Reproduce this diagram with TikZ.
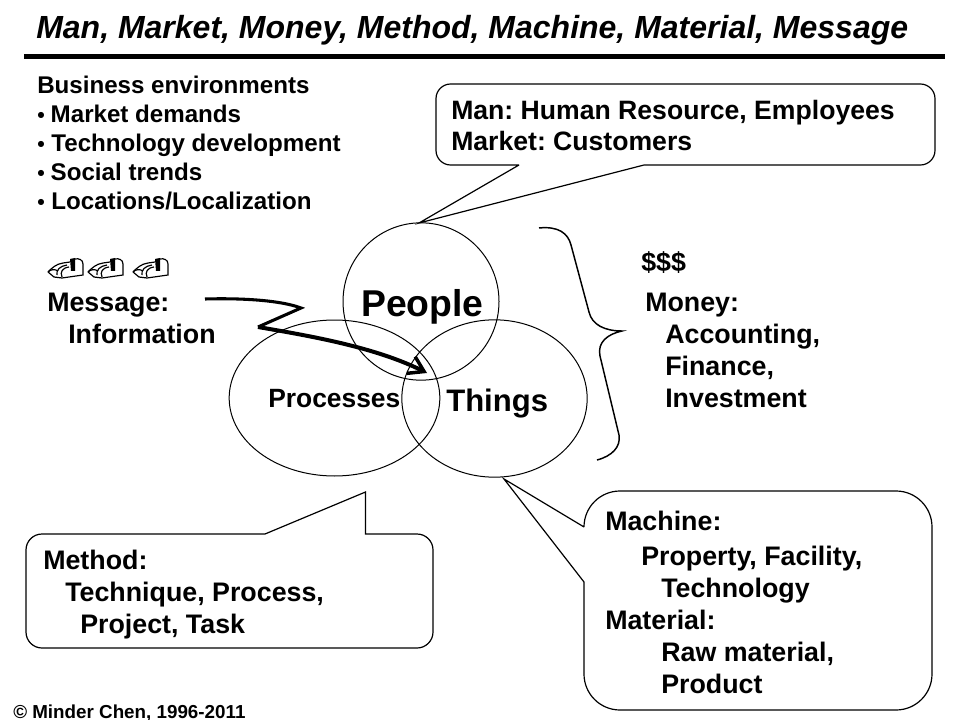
\documentclass[tikz,border=0pt]{standalone}
\usepackage{fontspec}
\setmainfont{Liberation Sans}
\usepackage{tikz}
\usetikzlibrary{shapes.geometric, arrows.meta}
\frenchspacing

\begin{document}
\begin{tikzpicture}[
  x=0.75pt, y=-0.75pt,
  txt/.style={inner sep=0pt, anchor=base west, align=left, font=\bfseries\fontsize{20.1}{24}\selectfont},
  small/.style={txt, font=\bfseries\fontsize{18.1}{21.75}\selectfont},
  venn/.style={draw, ellipse, inner sep=0pt, line width=0.75pt},
  callout/.style={draw, line width=0.9pt},
  arr/.style={-{Straight Barb[length=11pt, width=14pt, line width=2.6pt]}, line width=3pt},
  mailbox/.pic={
    \draw[line width=0.9pt] (14,20) -- (35,17) -- (35,6) .. controls (35,2) and (31,0) .. (27,1);
    \draw[line width=0.9pt] (0,14) .. controls (4,10) and (8,6) .. (15,5) -- (22,4);
    \draw[line width=0.9pt] (0,14) -- (6,19) -- (14,20);
    \draw[line width=0.9pt] (0,14) .. controls (3,11) and (7,11) .. (10,13);
    \draw[line width=0.9pt] (9,17) .. controls (8,12) and (12,8) .. (19,7);
    \draw[line width=0.9pt] (14,19) .. controls (12,14) and (14,10) .. (21,9);
    \fill (22,1) -- (27,0) -- (27,13) -- (23,13) -- cycle;
  }
]
  \useasboundingbox (0,0) rectangle (960,720);

  % title and rule
  \node[txt, font=\bfseries\itshape\fontsize{24}{28}\selectfont] (title) at (36,38.5)
    {Man, Market, Money, Method, Machine, Material, Message};
  \draw[line width=4pt] (24,56.5) -- (945,56.5);

  \node[small] (business) at (37,210) {Business environments\\
    {\fontsize{16}{21.75}\selectfont •}\hspace*{4.5pt}Market demands\\
    {\fontsize{16}{21.75}\selectfont •}\hspace*{5pt}Technology development\\
    {\fontsize{16}{21.75}\selectfont •}\hspace*{4.5pt}Social trends\\
    {\fontsize{16}{21.75}\selectfont •}\hspace*{5pt}Locations/Localization};

  % the three sets
  \node[venn, minimum width=117pt, minimum height=118pt] (peopleset) at (421,301.5) {};
  \node[venn, minimum width=158pt, minimum height=117pt] (processset) at (334.5,398) {};
  \node[venn, minimum width=139pt, minimum height=118pt] (thingset) at (494.5,398.5) {};
  \node[txt, font=\bfseries\fontsize{28}{32}\selectfont] (people) at (361,316) {People};
  \node[txt, font=\bfseries\fontsize{23.3}{28}\selectfont] (things) at (446,411) {Things};
  \node[txt, font=\bfseries\fontsize{19.8}{24}\selectfont] (processes) at (268,407) {Processes};

  % message
  \pic at (48,258) {mailbox};
  \pic at (88,258) {mailbox};
  \pic at (133,258) {mailbox};
  \node[txt] (message) at (47,343) {Message:\\\hspace*{15.75pt}Information};
  \coordinate (msgstart) at (205,299);
  \coordinate (msgbend) at (301,308);
  \coordinate (msgback) at (258,327);
  \coordinate (msgend) at (427,373);
  \draw[line width=2.3pt, line join=miter] (msgstart) .. controls (240,298) and (280,300) .. (msgbend) -- (msgback);
  \draw[arr] (msgback) .. controls (310,336) and (375,347) .. (msgend);

  % money
  \draw[line width=1.1pt] (539,228) .. controls (558,226) and (568,233) .. (571,245)
    -- (589,312) .. controls (592,325) and (605,331) .. (622,331)
    .. controls (608,334) and (597,342) .. (600,356)
    -- (619,435) .. controls (621,447) and (612,456) .. (597,460);
  \node[txt] (dollars) at (641,272) {\$\$\$};
  \node[txt] (money) at (645,407) {Money:\\\hspace*{15pt}Accounting,\\\hspace*{15pt}Finance,\\\hspace*{15pt}Investment};

  % callouts
  \draw[callout] (519,165) -- (419,223) -- (644,165) -- (700,165) [rounded corners=11pt]
    -- (935,165) -- (935,84) -- (436,84) -- (436,165) -- (519,165);
  \node[txt, font=\bfseries\fontsize{19.95}{23.25}\selectfont] (man) at (451,151) {Man: Human Resource, Employees\\Market: Customers};

  \draw[callout] (265,534) -- (365.5,492) -- (365.5,534) -- (380,534) [rounded corners=12pt]
    -- (433,534) -- (433,648) -- (26,648) -- (26,534) -- (265,534);
  \node[txt] (method) at (43,633) {Method:\\\hspace*{16.5pt}Technique, Process,\\\hspace*{27.75pt}Project, Task};

  \draw[callout] (584,527) -- (504,479) -- (584,582) -- (584,600) [rounded corners=27pt]
    -- (584,710) -- (932,710) -- (932,491) -- (584,491) -- (584,527);
  \node[txt] (machine) at (605,693) {Machine:\\[2pt]\hspace*{27pt}Property, Facility,\\\hspace*{42pt}Technology\\Material:\\\hspace*{42pt}Raw material,\\\hspace*{42pt}Product};

  \node[txt, font=\bfseries\fontsize{14.1}{18}\selectfont] (credit) at (13,718) {© Minder Chen, 1996-2011};
\end{tikzpicture}
\end{document}
